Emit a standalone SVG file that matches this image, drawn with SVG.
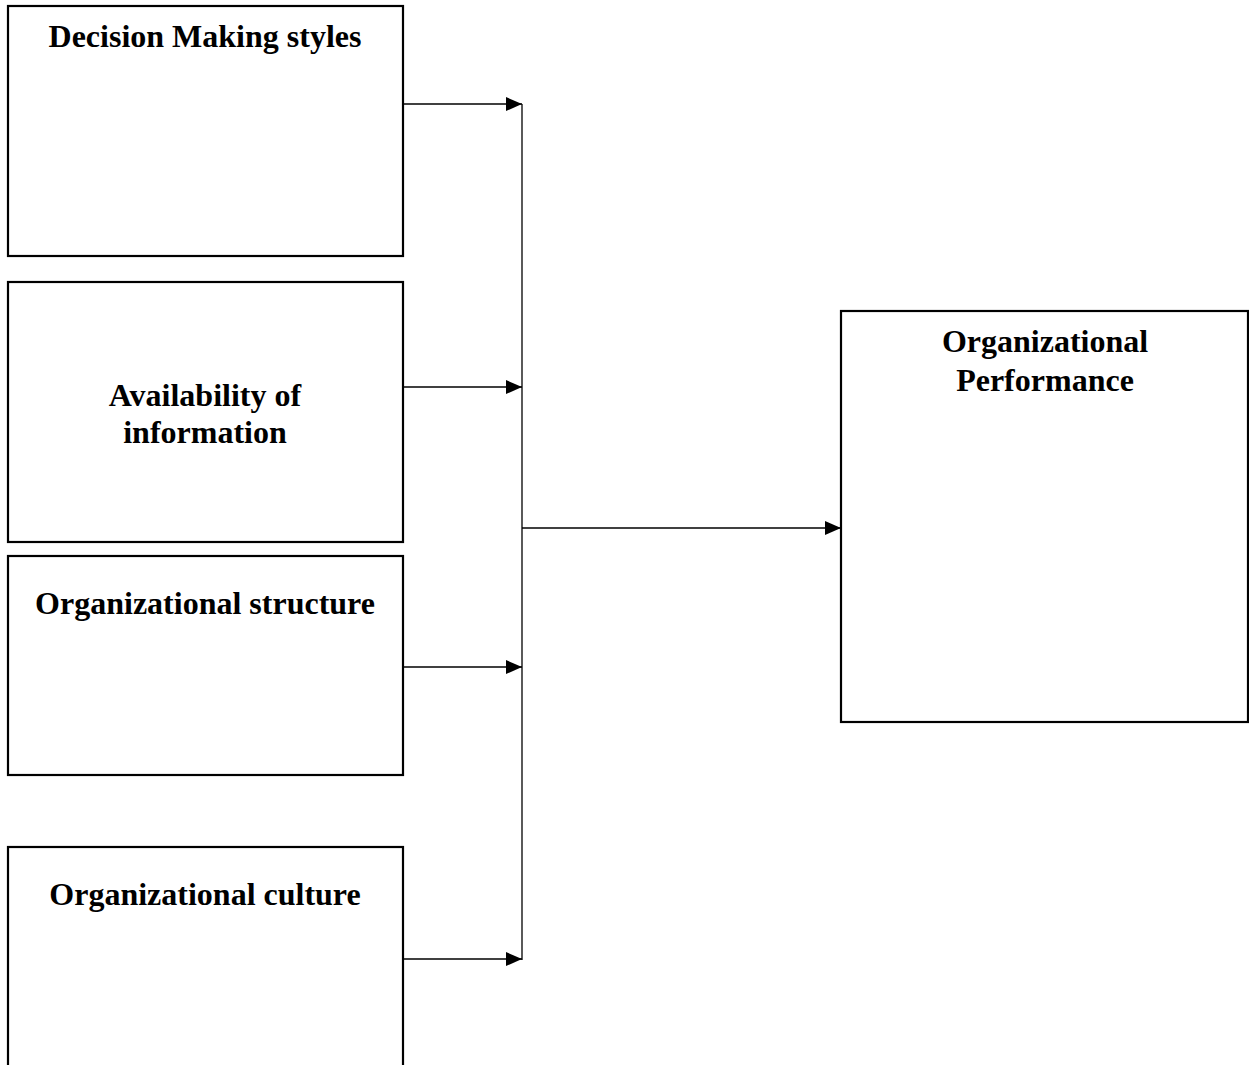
<svg xmlns="http://www.w3.org/2000/svg" width="1249" height="1065" viewBox="0 0 1249 1065">
<style>
.box{fill:#fff;stroke:#000;stroke-width:2.2}
.t{font-family:"Liberation Serif","Times New Roman",serif;font-weight:bold;font-size:32px;fill:#000;text-anchor:middle}
.c{fill:none;stroke:#000;stroke-width:1.3}
</style>
<defs>
<marker id="ah" markerWidth="16" markerHeight="14" refX="16" refY="7" orient="auto" markerUnits="userSpaceOnUse">
<path d="M0,0 L16,7 L0,14 Z" fill="#000"/>
</marker>
</defs>
<rect width="1249" height="1065" fill="#fff"/>
<g id="n1"><rect class="box" x="8" y="6" width="395" height="250"/><text class="t" x="205" y="47">Decision Making styles</text></g>
<g id="n2"><rect class="box" x="8" y="282" width="395" height="260"/><text class="t" x="205" y="406">Availability of</text><text class="t" x="205" y="443">information</text></g>
<g id="n3"><rect class="box" x="8" y="556" width="395" height="219"/><text class="t" x="205" y="614">Organizational structure</text></g>
<g id="n4"><rect class="box" x="8" y="847" width="395" height="240"/><text class="t" x="205" y="905">Organizational culture</text></g>
<g id="n5"><rect class="box" x="841" y="311" width="407" height="411"/><text class="t" x="1045" y="352">Organizational</text><text class="t" x="1045" y="391">Performance</text></g>
<g id="connectors">
<line class="c" x1="522" y1="104" x2="522" y2="960"/>
<line class="c" x1="403" y1="104" x2="522" y2="104" marker-end="url(#ah)"/>
<line class="c" x1="403" y1="387" x2="522" y2="387" marker-end="url(#ah)"/>
<line class="c" x1="403" y1="667" x2="522" y2="667" marker-end="url(#ah)"/>
<line class="c" x1="403" y1="959" x2="522" y2="959" marker-end="url(#ah)"/>
<line class="c" x1="522" y1="528" x2="841" y2="528" marker-end="url(#ah)"/>
</g>
</svg>
